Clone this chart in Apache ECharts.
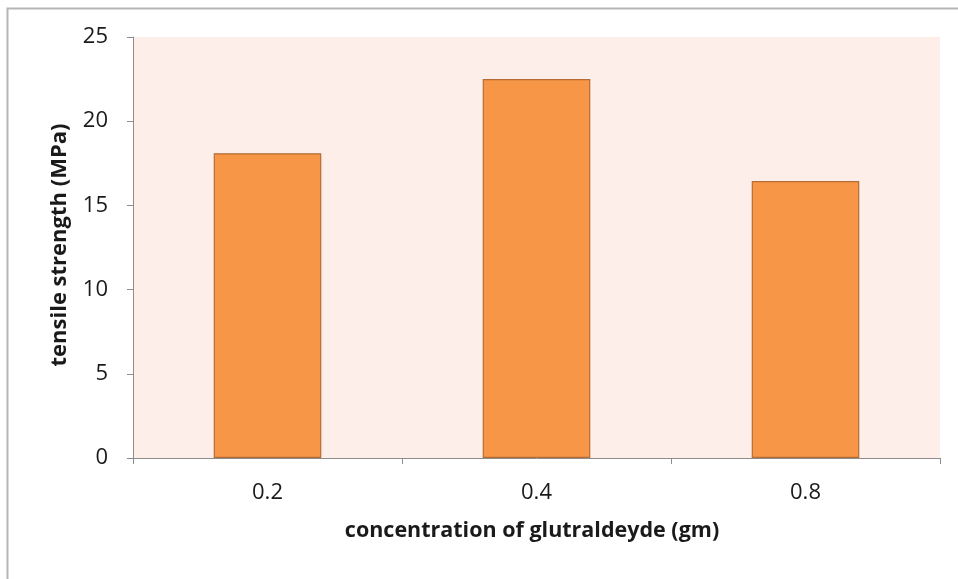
<!DOCTYPE html>
<html>
<head>
<meta charset="utf-8">
<script src="https://cdn.jsdelivr.net/npm/echarts@6/dist/echarts.min.js"></script>
<style>
  html, body { margin: 0; padding: 0; background: #ffffff; }
  #chart { width: 958px; height: 579px; }
</style>
</head>
<body>
<div id="chart"></div>
<script>
// Glutaraldehyde concentration (gm) vs tensile strength (MPa)
const categories = ['0.2', '0.4', '0.8'];
const tensileStrength = [18.1, 22.5, 16.45];
const yTicks = [0, 5, 10, 15, 20, 25];

const FONT = '"Open Sans", "Noto Sans", sans-serif';

const chart = echarts.init(document.getElementById('chart'), null, { renderer: 'canvas' });

chart.setOption({
  backgroundColor: '#ffffff',
  animation: false,
  graphic: [
    {
      type: 'rect',
      shape: { x: 7.5, y: 8.5, width: 1200, height: 1200 },
      style: { fill: 'none', stroke: '#b5b5b5', lineWidth: 2 },
      silent: true,
      z: -10
    }
  ],
  grid: {
    left: 133,
    top: 37,
    right: 18,
    bottom: 121,
    show: true,
    backgroundColor: '#fdeeea',
    borderWidth: 0
  },
  xAxis: {
    type: 'category',
    data: categories,
    name: 'concentration of glutraldeyde (gm)',
    nameLocation: 'middle',
    nameGap: 62,
    nameTextStyle: { fontFamily: FONT, fontSize: 21.5, fontWeight: 'bold', color: '#1a1a1a', padding: [0, 9, 0, 0] },
    axisLine: { show: true, lineStyle: { color: '#8c8c8c', width: 1 } },
    axisTick: { show: true, alignWithLabel: false, length: 6, lineStyle: { color: '#8c8c8c' } },
    axisLabel: { fontFamily: FONT, fontSize: 22, color: '#1a1a1a', margin: 24 },
    splitLine: { show: false }
  },
  yAxis: {
    type: 'value',
    min: yTicks[0],
    max: yTicks[yTicks.length - 1],
    interval: 5,
    name: 'tensile strength (MPa)',
    nameLocation: 'middle',
    nameGap: 62,
    nameTextStyle: { fontFamily: FONT, fontSize: 22, fontWeight: 'bold', color: '#1a1a1a', padding: [0, 0, 0, 5] },
    axisLine: { show: true, lineStyle: { color: '#8c8c8c', width: 1 } },
    axisTick: { show: true, length: 6, lineStyle: { color: '#8c8c8c' } },
    axisLabel: { fontFamily: FONT, fontSize: 22, color: '#1a1a1a', margin: 25 },
    splitLine: { show: false }
  },
  series: [
    {
      type: 'bar',
      data: tensileStrength,
      barWidth: '40%',
      itemStyle: {
        color: '#f79646',
        borderColor: '#b66d35',
        borderWidth: 1.2
      }
    }
  ]
});
</script>
</body>
</html>
